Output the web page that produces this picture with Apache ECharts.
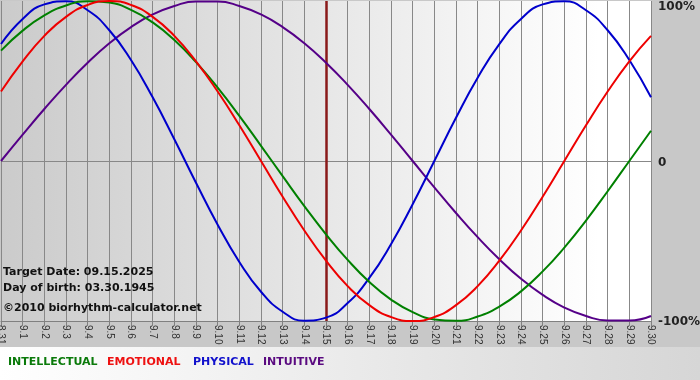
<!DOCTYPE html>
<html>
<head>
<meta charset="utf-8">
<script src="https://cdn.jsdelivr.net/npm/echarts@6/dist/echarts.min.js"></script>
<style>html,body{margin:0;padding:0;background:#c8c8c8;}#c{width:700px;height:380px;}</style>
</head>
<body>
<div id="c"></div>
<script>
var categories = ['8.31','9.1','9.2','9.3','9.4','9.5','9.6','9.7','9.8','9.9','9.10','9.11','9.12','9.13','9.14','9.15','9.16','9.17','9.18','9.19','9.20','9.21','9.22','9.23','9.24','9.25','9.26','9.27','9.28','9.29','9.30'];
var intellectual = [0.690,0.815,0.910,0.972,0.999,0.990,0.945,0.866,0.756,0.618,0.458,0.282,0.095,-0.095,-0.282,-0.458,-0.618,-0.756,-0.866,-0.945,-0.990,-0.999,-0.972,-0.910,-0.815,-0.690,-0.541,-0.372,-0.189,0.000,0.189];
var emotional = [0.434,0.623,0.782,0.901,0.975,1.000,0.975,0.901,0.782,0.623,0.434,0.223,0.000,-0.223,-0.434,-0.623,-0.782,-0.901,-0.975,-1.000,-0.975,-0.901,-0.782,-0.623,-0.434,-0.223,0.000,0.223,0.434,0.623,0.782];
var physical = [0.731,0.888,0.979,0.998,0.942,0.817,0.631,0.398,0.136,-0.136,-0.398,-0.631,-0.817,-0.942,-0.998,-0.979,-0.888,-0.731,-0.520,-0.270,0.000,0.270,0.520,0.731,0.888,0.979,0.998,0.942,0.817,0.631,0.398];
var intuitive = [0.000,0.165,0.325,0.476,0.614,0.736,0.837,0.916,0.969,0.997,0.997,0.969,0.916,0.837,0.736,0.614,0.476,0.325,0.165,0.000,-0.165,-0.325,-0.476,-0.614,-0.736,-0.837,-0.916,-0.969,-0.997,-0.997,-0.969];
var yTicks = {'1':'100%','0':'0','-1':'-100%'};
var targetDay = '9.15';
var infoLines = ['Target Date: 09.15.2025','Day of birth: 03.30.1945','\u00a92010 biorhythm-calculator.net'];
var legendNames = ['INTELLECTUAL','EMOTIONAL','PHYSICAL','INTUITIVE'];

var colors = {INTELLECTUAL:'#008000', EMOTIONAL:'#ee0000', PHYSICAL:'#0000cc', INTUITIVE:'#550088'};
var legendColors = {INTELLECTUAL:'#0a7a0a', EMOTIONAL:'#ee1111', PHYSICAL:'#1111cc', INTUITIVE:'#5a0a80'};
var legendX = [8, 107, 193, 263];

var chart = echarts.init(document.getElementById('c'));
function line(name, data, extra){
  var s = {name:name, type:'line', data:data, smooth:true, symbol:'none', z:3,
    lineStyle:{color:colors[name], width:2}, itemStyle:{color:colors[name]}};
  if(extra){for(var k in extra) s[k]=extra[k];}
  return s;
}
var graphics = [
  {type:'rect', left:0, top:347, shape:{width:700,height:33}, z:-1,
   style:{fill:new echarts.graphic.LinearGradient(0,0,1,0,[{offset:0,color:'#ffffff'},{offset:1,color:'#d6d6d6'}])}}
];
infoLines.forEach(function(t,i){
  graphics.push({type:'text', left:3, top:[267,283,303][i], z:10,
    style:{text:t, fill:'#111', font:'bold 11px "DejaVu Sans"'}});
});
legendNames.forEach(function(n,i){
  graphics.push({type:'text', left:legendX[i], top:357, z:10,
    style:{text:n, fill:legendColors[n], font:'bold 11px "DejaVu Sans"'}});
});

chart.setOption({
  animation:false,
  backgroundColor:'#c8c8c8',
  grid:{left:1, right:49, top:1, bottom:59, show:true, borderWidth:0, containLabel:false, outerBoundsMode:'none',
    backgroundColor:new echarts.graphic.LinearGradient(0,0,1,0,[{offset:0,color:'#cbcbcb'},{offset:0.92,color:'#ffffff'},{offset:1,color:'#ffffff'}])},
  xAxis:{type:'category', data:categories, boundaryGap:false,
    axisLine:{onZero:false, lineStyle:{color:'#808080', width:1}},
    axisTick:{show:true, length:5, alignWithLabel:true, lineStyle:{color:'#808080'}},
    axisLabel:{rotate:-90, interval:0, color:'#333', fontSize:10, fontFamily:'Liberation Sans', margin:4},
    splitLine:{show:true, lineStyle:{color:'#888', width:1}}},
  yAxis:{type:'value', min:-1, max:1, interval:1, position:'right',
    axisLine:{show:false}, axisTick:{show:false}, splitLine:{show:false},
    axisLabel:{margin:7, formatter:function(v){ var s=yTicks[String(v)]; return v===1 ? '{t|'+s+'}' : (v===0 ? '{z|'+s+'}' : '{m|'+s+'}'); },
      rich:{t:{fontSize:12, fontWeight:'bold', color:'#222', fontFamily:'DejaVu Sans', padding:[12,0,0,0]},
            z:{fontSize:12, fontWeight:'bold', color:'#222', fontFamily:'DejaVu Sans', padding:[3,0,0,0]},
            m:{fontSize:12, fontWeight:'bold', color:'#222', fontFamily:'DejaVu Sans', padding:[2,0,0,0]}}}},
  graphic:graphics,
  series:[
    line('INTUITIVE', intuitive, {markLine:{silent:true, symbol:'none', label:{show:false}, z:2,
      data:[{yAxis:0, lineStyle:{color:'#888', width:1, type:'solid'}},
            {xAxis:targetDay, lineStyle:{color:'#8a1a1a', width:2.5, type:'solid'}}]}}),
    line('PHYSICAL', physical),
    line('INTELLECTUAL', intellectual),
    line('EMOTIONAL', emotional)
  ]
});
</script>
</body>
</html>
